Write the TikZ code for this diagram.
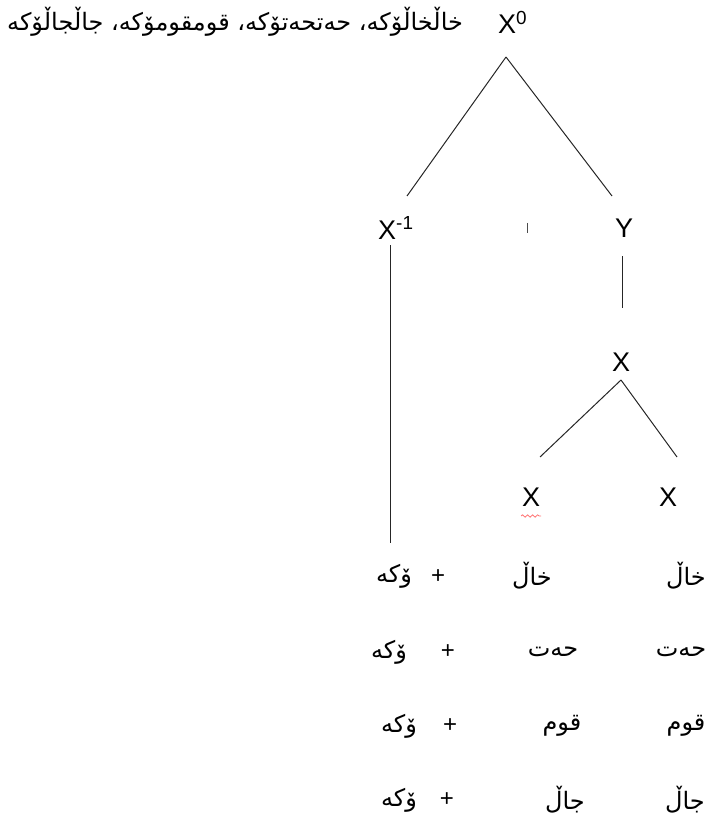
\documentclass[tikz,border=0pt]{standalone}
\usepackage{fontspec}
\setmainfont{Liberation Sans}
\newfontfamily\arabicfont[Script=Arabic]{DejaVu Sans}
\TeXXeTstate=1
\usetikzlibrary{decorations.pathmorphing}
\tikzset{
  lat/.style={font=\fontsize{27}{30}\selectfont, inner sep=0pt},
  ar/.style={font=\arabicfont\fontsize{24}{28}\selectfont, inner sep=0pt},
  plus/.style={font=\fontsize{24}{26}\selectfont, inner sep=0pt},
  edge/.style={draw=black!85, line width=1pt}
}
\begin{document}
\begin{tikzpicture}[x=1pt,y=-1pt]
\useasboundingbox (0,0) rectangle (707,818);
% title
\node[ar, anchor=east] (title) at (463,22) {\beginR خاڵخاڵۆکە، حەتحەتۆکە، قومقومۆکە، جاڵجاڵۆکە\endR};
\node[lat, anchor=west] (x0) at (498,22) {X\textsuperscript{0}};
\node[lat, anchor=west] (xm1) at (378,228) {X\textsuperscript{-1}};
\node[lat] (y) at (624,228) {Y};
\node[lat] (x) at (621,362) {X};
\node[lat] (xl) at (531,497) {X};
\node[lat] (xr) at (668,497) {X};
% connector end points
\coordinate (top) at (506,57);
\coordinate (lend) at (407,196);
\coordinate (rend) at (612,196);
\coordinate (v1a) at (390,245);
\coordinate (v1b) at (390,543);
\coordinate (v2a) at (622,256);
\coordinate (v2b) at (622,308);
\coordinate (xtop) at (621,380);
\coordinate (xlend) at (540,457);
\coordinate (xrend) at (677,457);
\coordinate (ta) at (527,223);
\coordinate (tb) at (527,233);
\draw[edge] (top) -- (lend);
\draw[edge] (top) -- (rend);
\draw[edge] (v1a) -- (v1b);
\draw[edge] (v2a) -- (v2b);
\draw[edge] (xtop) -- (xlend);
\draw[edge] (xtop) -- (xrend);
\draw[line width=1pt, draw=black!70] (ta) -- (tb);
% spell-check squiggle
\coordinate (sqa) at (521,516);
\coordinate (sqb) at (541,516);
\draw[red!55, line width=0.8pt, decorate, decoration={snake, amplitude=1.2pt, segment length=5pt}] (sqa) -- (sqb);
% rows
\node[ar] (s1) at (394,576) {\beginR ۆکە\endR};
\node[plus] (p1) at (438,577) {+};
\node[ar] (m1) at (532,576) {\beginR خاڵ\endR};
\node[ar] (r1) at (686,576) {\beginR خاڵ\endR};
\node[ar] (s2) at (389,652) {\beginR ۆکە\endR};
\node[plus] (p2) at (448,652) {+};
\node[ar] (m2) at (553,652) {\beginR حەت\endR};
\node[ar] (r2) at (681,652) {\beginR حەت\endR};
\node[ar] (s3) at (399,726) {\beginR ۆکە\endR};
\node[plus] (p3) at (450,726) {+};
\node[ar] (m3) at (562,726) {\beginR قوم\endR};
\node[ar] (r3) at (686,726) {\beginR قوم\endR};
\node[ar] (s4) at (399,800) {\beginR ۆکە\endR};
\node[plus] (p4) at (447,800) {+};
\node[ar] (m4) at (565,800) {\beginR جاڵ\endR};
\node[ar] (r4) at (685,800) {\beginR جاڵ\endR};
\end{tikzpicture}
\end{document}
